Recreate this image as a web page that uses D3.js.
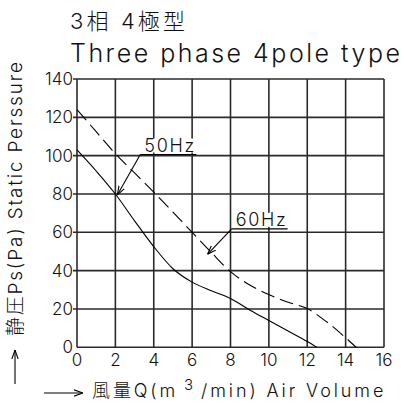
<!DOCTYPE html>
<html><head><meta charset="utf-8">
<script src="https://cdn.jsdelivr.net/npm/d3@7"></script>
<style>
html,body{margin:0;padding:0;background:#fff;}
svg{display:block;}
text{font-family:Inter,"Noto Sans CJK JP",sans-serif;font-weight:300;fill:#111;}
</style></head>
<body><svg id="c" width="404" height="403"></svg>
<script>
// Data
const xTicks = [0, 2, 4, 6, 8, 10, 12, 14, 16];
const yTicks = [0, 20, 40, 60, 80, 100, 120, 140];
const q50 = [0, 1, 2, 3, 4, 5, 6, 7, 8, 9, 10, 11, 12, 12.5];
const p50 = [103, 92, 80, 66, 52.5, 41, 34, 29.5, 25.5, 19.5, 14, 8.5, 3, 0];
const q60 = [0, 1, 2, 3, 4, 5, 6, 7, 8, 9, 10, 11, 12, 13, 14, 14.55];
const p60 = [124, 112.5, 101, 91, 81, 70.5, 60, 49.5, 39.5, 32.5, 27.5, 23.5, 20.2, 13.4, 5, 0];
const labels = ["50Hz", "60Hz"];
const labelAnchor = [[3.3, 100.6], [8.06, 61.8]];
const labelTip = [[2.1, 79.5], [6.8, 48.5]];
const title1 = "3相 4極型";
const title2 = "Three phase 4pole type";
const yTitle = "静圧Ps(Pa) Static Perssure";

const svg = d3.select("#c");
const x = d3.scaleLinear().domain([0, 16]).range([77, 384]);
const y = d3.scaleLinear().domain([0, 140]).range([347.3, 79]);

// grid
const g = svg.append("g");
g.selectAll("line.v").data(xTicks).join("line")
  .attr("x1", d => x(d)).attr("x2", d => x(d))
  .attr("y1", y(0)).attr("y2", y(140))
  .attr("stroke", "#2a2a2a").attr("stroke-width", 1.6);
g.selectAll("line.h").data(yTicks).join("line")
  .attr("x1", d => x(0) - (d === 0 ? 0 : 4)).attr("x2", x(16))
  .attr("y1", d => y(d)).attr("y2", d => y(d))
  .attr("stroke", "#2a2a2a").attr("stroke-width", 1.6);

// tick labels
svg.selectAll("text.yt").data(yTicks).join("text")
  .attr("x", 73).attr("y", d => y(d) + 6)
  .attr("text-anchor", "end").attr("font-size", 17).text(d => d);
svg.selectAll("text.xt").data(xTicks).join("text")
  .attr("x", d => x(d)).attr("y", 366)
  .attr("text-anchor", "middle").attr("font-size", 17).text(d => d);

// curves
const line = d3.line().x(d => x(d[0])).y(d => y(d[1])).curve(d3.curveMonotoneX);
svg.append("path").datum(d3.zip(q50, p50)).attr("d", line)
  .attr("fill", "none").attr("stroke", "#000").attr("stroke-width", 1.1);
svg.append("path").datum(d3.zip(q60, p60)).attr("d", line)
  .attr("fill", "none").attr("stroke", "#000").attr("stroke-width", 1.1)
  .attr("stroke-dasharray", "14,6");

// annotation labels
svg.append("defs").append("marker").attr("id", "ah")
  .attr("viewBox", "0 0 10 10").attr("refX", 10).attr("refY", 5)
  .attr("markerWidth", 9).attr("markerHeight", 9).attr("orient", "auto")
  .attr("markerUnits", "userSpaceOnUse")
  .append("path").attr("d", "M0,1.5 L10,5 L0,8.5").attr("fill", "none").attr("stroke", "#000").attr("stroke-width", 1.2);

labels.forEach((lab, i) => {
  const ax = x(labelAnchor[i][0]), ay = y(labelAnchor[i][1]);
  svg.append("rect").attr("x", ax + 3).attr("y", ay - 16).attr("width", 52).attr("height", 14).attr("fill", "#fff");
  svg.append("text").attr("x", ax + 4).attr("y", ay - 3).attr("font-size", 18).attr("textLength", 50).text(lab);
  svg.append("line").attr("x1", ax).attr("x2", ax + 56).attr("y1", ay).attr("y2", ay)
    .attr("stroke", "#000").attr("stroke-width", 1.2);
  svg.append("line").attr("x1", ax).attr("y1", ay)
    .attr("x2", x(labelTip[i][0])).attr("y2", y(labelTip[i][1]))
    .attr("stroke", "#000").attr("stroke-width", 1.1).attr("marker-end", "url(#ah)");
});

// titles
svg.append("text").attr("x", 70).attr("y", 29).attr("font-size", 22).attr("textLength", 115).text(title1);
svg.append("text").attr("x", 70).attr("y", 62).attr("font-size", 25).attr("textLength", 330).text(title2);

// y axis title with arrow
svg.append("text").attr("transform", "translate(22,336) rotate(-90)")
  .attr("font-size", 19).attr("textLength", 274).text(yTitle);
svg.append("line").attr("x1", 15).attr("x2", 15).attr("y1", 384).attr("y2", 350)
  .attr("stroke", "#000").attr("stroke-width", 1.1).attr("marker-end", "url(#ah)");

// x axis title with arrow
svg.append("line").attr("x1", 44).attr("x2", 83).attr("y1", 393).attr("y2", 393)
  .attr("stroke", "#000").attr("stroke-width", 1.1).attr("marker-end", "url(#ah)");
const xt = svg.append("text").attr("x", 92).attr("y", 397).attr("font-size", 18);
xt.append("tspan").text("風量Q(m");
xt.append("tspan").attr("dx", 6).attr("dy", -7).attr("font-size", 15).text("3");
xt.append("tspan").attr("dx", 5).attr("dy", 7).text("/min) Air Volume");
// stretch to the width the reference uses
const bw = xt.node().getBBox().width;
if (bw < 300) xt.attr("letter-spacing", (300 - bw) / 24);
</script></body></html>
